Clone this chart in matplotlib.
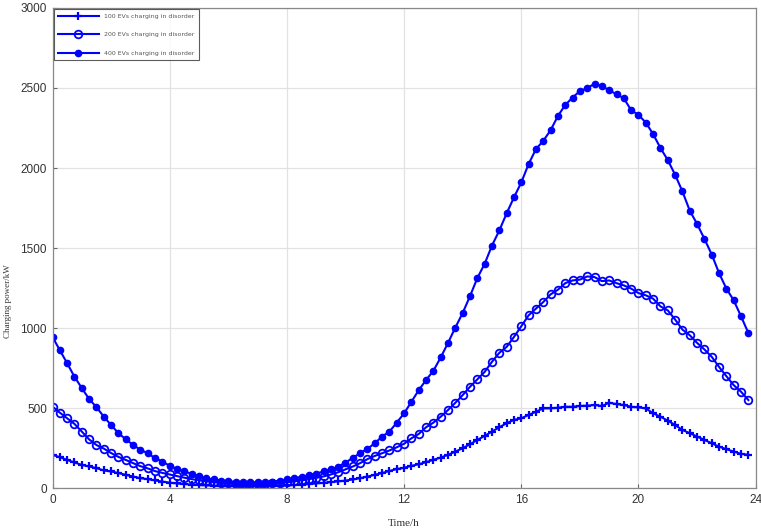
import matplotlib
matplotlib.use("Agg")
import matplotlib.pyplot as plt
import numpy as np

hours = np.arange(96) * 0.25

ev100 = [209, 194, 177, 161, 146, 136, 126, 111, 105, 95, 84, 73, 63, 57, 49, 42,
         35, 30, 26, 23, 20, 18, 16, 15, 14, 13, 13, 13, 13, 14, 15, 16,
         18, 20, 23, 26, 30, 34, 38, 43, 48, 55, 63, 73, 84, 95, 108, 120,
         128, 140, 150, 163, 178, 192, 209, 229, 250, 275, 302, 327, 354, 381, 406, 427,
         437, 458, 478, 499, 499, 503, 509, 509, 514, 516, 520, 514, 534, 526, 520, 509,
         505, 499, 468, 447, 422, 395, 364, 344, 323, 302, 281, 260, 244, 229, 215, 209]

ev200 = [510, 472, 437, 402, 354, 305, 270, 248, 220, 196, 177, 157, 138, 124, 107, 96,
         86, 76, 66, 57, 50, 43, 38, 34, 31, 29, 28, 27, 28, 29, 31, 34,
         38, 43, 50, 57, 65, 74, 86, 100, 118, 136, 157, 182, 202, 219, 236, 256,
         278, 312, 339, 381, 410, 447, 489, 534, 582, 634, 680, 727, 790, 846, 883, 945,
         1012, 1080, 1122, 1163, 1211, 1240, 1281, 1298, 1303, 1323, 1319, 1294, 1298, 1281, 1267, 1247,
         1219, 1205, 1184, 1136, 1111, 1054, 991, 956, 908, 867, 821, 758, 700, 644, 603, 551]

ev400 = [945, 862, 781, 696, 626, 557, 507, 447, 395, 344, 306, 271, 240, 219, 188, 167,
         140, 120, 105, 90, 75, 63, 55, 48, 43, 40, 38, 37, 38, 40, 42, 48,
         55, 63, 72, 80, 92, 105, 118, 135, 160, 190, 219, 246, 281, 323, 354, 410,
         468, 540, 613, 676, 734, 817, 908, 1004, 1095, 1200, 1313, 1402, 1516, 1610, 1717, 1817,
         1910, 2025, 2118, 2170, 2236, 2325, 2394, 2440, 2481, 2498, 2527, 2512, 2486, 2461, 2436, 2361,
         2332, 2284, 2212, 2125, 2050, 1958, 1854, 1734, 1651, 1558, 1460, 1344, 1247, 1174, 1074, 970]

labels = ["100 EVs charging in disorder",
          "200 EVs charging in disorder",
          "400 EVs charging in disorder"]
xticks = [0, 4, 8, 12, 16, 20, 24]
yticks = [0, 500, 1000, 1500, 2000, 2500, 3000]

fig = plt.figure(figsize=(7.61, 5.29), dpi=100)
ax = fig.add_axes([0.069, 0.077, 0.924, 0.908])

blue = "#0000ff"
ax.plot(hours, ev100, color=blue, lw=1.5, marker="+", ms=6, mew=1.6, label=labels[0])
ax.plot(hours, ev200, color=blue, lw=1.5, marker="o", ms=5.5, mfc="none", mew=1.3, label=labels[1])
ax.plot(hours, ev400, color=blue, lw=1.5, marker="o", ms=4.5, mfc=blue, label=labels[2])

ax.set_xlim(0, 24)
ax.set_ylim(0, 3000)
ax.set_xticks(xticks)
ax.set_yticks(yticks)
ax.grid(True, color="#e2e2e2", lw=0.9)
ax.set_axisbelow(True)
ax.tick_params(direction="in", length=3, colors="#666666", labelsize=8.5, labelcolor="#333333", pad=4)
for lab in ax.get_xticklabels() + ax.get_yticklabels():
    lab.set_family("Liberation Sans")
for s in ax.spines.values():
    s.set_color("#888888")
    s.set_linewidth(0.9)

ax.set_xlabel("Time/h", family="Liberation Serif", fontsize=8, color="#333333")
ax.xaxis.set_label_coords(0.5, -0.065)
ax.set_ylabel("Charging power/kW", family="Liberation Serif", fontsize=6.5, color="#333333")
ax.yaxis.set_label_coords(-0.058, 0.39)

leg = ax.legend(loc="upper left", fontsize=4.5, handlelength=6.5, frameon=True, fancybox=False,
                borderpad=0.7, labelspacing=2.1, borderaxespad=0.2)
leg.get_frame().set_edgecolor("#333333")
leg.get_frame().set_linewidth(0.8)
for t in leg.get_texts():
    t.set_color("#555555")

fig.savefig("out.png", dpi=100)
